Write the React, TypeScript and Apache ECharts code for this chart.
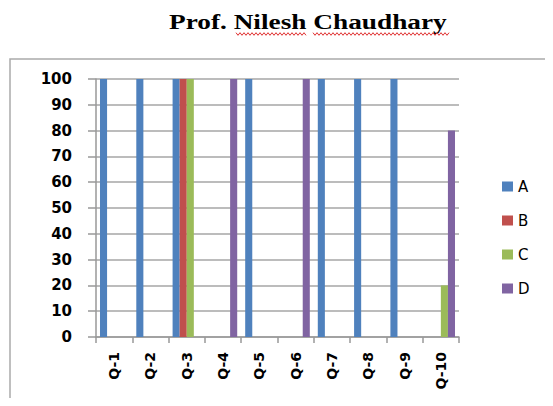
import React, { useEffect, useRef } from "react";
import * as echarts from "echarts";

const categories = ["Q-1", "Q-2", "Q-3", "Q-4", "Q-5", "Q-6", "Q-7", "Q-8", "Q-9", "Q-10"];
const seriesA = [100, 100, 100, 0, 100, 0, 100, 100, 100, 0];
const seriesB = [0, 0, 100, 0, 0, 0, 0, 0, 0, 0];
const seriesC = [0, 0, 100, 0, 0, 0, 0, 0, 0, 20];
const seriesD = [0, 0, 0, 100, 0, 100, 0, 0, 0, 80];
const seriesNames = ["A", "B", "C", "D"];
const colors = ["#4F81BD", "#C0504D", "#9BBB59", "#8064A2"];
const titleText = "Prof. Nilesh Chaudhary";

function squiggle(x0: number, x1: number, y: number): number[][] {
  const pts: number[][] = [];
  let up = true;
  for (let x = x0; x <= x1; x += 2) {
    pts.push([x, up ? y - 1.3 : y + 1.3]);
    up = !up;
  }
  return pts;
}

export default function App() {
  const ref = useRef<HTMLDivElement>(null);
  useEffect(() => {
    if (!ref.current) return;
    const chart = echarts.init(ref.current, null, { renderer: "svg" });
    const data = [seriesA, seriesB, seriesC, seriesD];
    chart.setOption({
      animation: false,
      backgroundColor: "#ffffff",
      color: colors,
      grid: { left: 96, right: 94, top: 79, bottom: 69, containLabel: false },
      legend: {
        orient: "vertical",
        left: 497,
        top: 174,
        itemWidth: 11,
        itemHeight: 10,
        itemGap: 19,
        icon: "rect",
        data: seriesNames,
        textStyle: { fontFamily: "DejaVu Sans", fontSize: 15, color: "#000", padding: [0, 0, 0, 0] },
      },
      xAxis: {
        type: "category",
        data: categories,
        axisLine: { lineStyle: { color: "#999", width: 1.5 } },
        axisTick: { show: true, length: 6, lineStyle: { color: "#999", width: 1.5 } },
        axisLabel: {
          rotate: 90,
          margin: 15,
          fontFamily: "DejaVu Sans",
          fontWeight: "bold",
          fontSize: 14,
          color: "#000",
        },
      },
      yAxis: {
        type: "value",
        min: 0,
        max: 100,
        interval: 10,
        axisLine: { show: true, lineStyle: { color: "#999", width: 1.5 } },
        axisTick: { show: true, length: 8, lineStyle: { color: "#999", width: 1.5 } },
        splitLine: { lineStyle: { color: "#a6a6a6", width: 1.5 } },
        axisLabel: {
          margin: 24,
          fontFamily: "DejaVu Sans",
          fontWeight: "bold",
          fontSize: 15,
          color: "#000",
        },
      },
      series: seriesNames.map((n, i) => ({
        name: n,
        type: "bar",
        data: data[i],
        barGap: "0%",
        barCategoryGap: "22%",
        itemStyle: { color: colors[i] },
      })),
      graphic: [
        {
          type: "rect",
          shape: { x: 10, y: 59, width: 600, height: 400 },
          style: { fill: "none", stroke: "#aaaaaa", lineWidth: 1.5 },
          silent: true,
          z: -10,
        },
        {
          type: "text",
          x: 169,
          y: 22,
          scaleX: 1.3,
          style: {
            text: titleText,
            fontFamily: "Liberation Serif",
            fontWeight: "bold",
            fontSize: 21,
            fill: "#000",
            textAlign: "left",
            textVerticalAlign: "middle",
          },
        },
        {
          type: "polyline",
          shape: { points: squiggle(236, 306, 34) },
          style: { stroke: "#e03030", lineWidth: 1, fill: "none" },
        },
        {
          type: "polyline",
          shape: { points: squiggle(313, 450, 34) },
          style: { stroke: "#e03030", lineWidth: 1, fill: "none" },
        },
      ],
    });
    return () => chart.dispose();
  }, []);
  return <div ref={ref} style={{ width: 553, height: 406, margin: -8 }} />;
}
